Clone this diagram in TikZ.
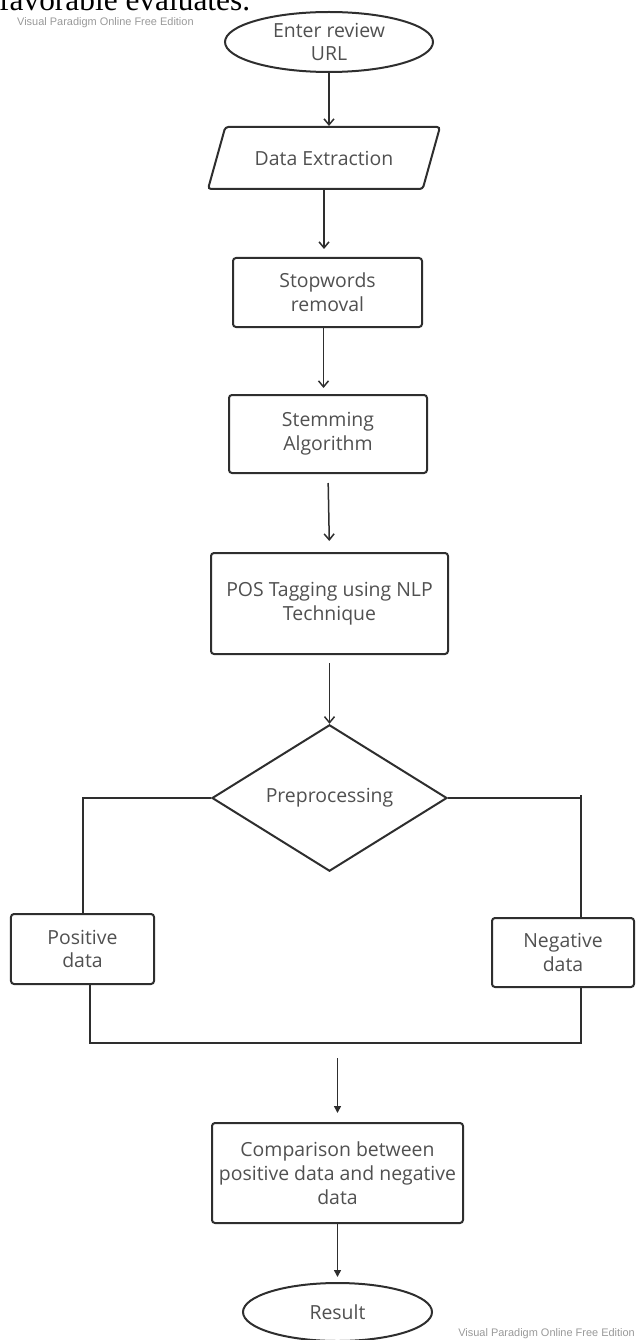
\documentclass[tikz,border=0pt]{standalone}
\usepackage{fontspec}
\setmainfont{Open Sans}
\newfontfamily\wmfont{Liberation Sans}
\newfontfamily\capfont{Liberation Serif}
\usetikzlibrary{shapes.geometric,arrows.meta}
\definecolor{vpline}{HTML}{2E2E2E}
\definecolor{vptext}{HTML}{505050}

\begin{document}
\begin{tikzpicture}[x = 1bp, y = -1bp,
	every node/.style = {font = \fontsize{19.5}{24}\selectfont, text = vptext, align = center, inner sep = 0pt},
	box/.style = {draw = vpline, line width = 2bp, rounded corners = 3bp},
	terminal/.style = {draw = vpline, line width = 2bp, ellipse},
	io/.style = {box, trapezium, trapezium left angle = 50, trapezium right angle = 130, trapezium stretches},
	decision/.style = {draw = vpline, line width = 2bp, diamond},
	link/.style = {draw = vpline, line width = 2bp},
	flow/.style = {draw = vpline, line width = 1.5bp, -{Straight Barb[length = 6bp, width = 10bp]}},
	flowsolid/.style = {draw = vpline, line width = 1.5bp, -{Triangle[length = 7bp, width = 7bp]}},
	watermark/.style = {font = \wmfont\fontsize{11}{13}\selectfont, text = black!40}]
	\useasboundingbox (0,0) rectangle (636,1340);

	% page text and watermarks
	\node[font = \capfont\fontsize{31.5}{36}\selectfont, text = black, anchor = base west] (caption) at (-1,11) {favorable evaluates.};
	\node[watermark, anchor = west] (wmtop) at (17,23) {Visual Paradigm Online Free Edition};
	\node[watermark, anchor = east] (wmbot) at (635,1334) {Visual Paradigm Online Free Edition};

	% flow steps
	\node[terminal, minimum width = 208bp, minimum height = 60bp] (start) at (329,42) {Enter review\\URL};
	\node[io, minimum width = 232bp, minimum height = 62bp] (extract) at (324,158) {Data Extraction};
	\node[box, minimum width = 189bp, minimum height = 69bp] (stop) at (327.5,292.5) {Stopwords\\removal};
	\node[box, minimum width = 198bp, minimum height = 78bp] (stem) at (328,434) {Stemming\\Algorithm};
	\node[box, minimum width = 237bp, minimum height = 101bp] (tag) at (329.5,603.5) {POS Tagging using NLP\\Technique};
	\node[decision, minimum width = 235bp, minimum height = 100bp] (prep) at (329.5,798) {Preprocessing};
	\node[box, minimum width = 143bp, minimum height = 70bp] (posdata) at (82.5,949) {Positive\\data};
	\node[box, minimum width = 142bp, minimum height = 69bp] (negdata) at (563,952.5) {Negative\\data};
	\node[box, minimum width = 251bp, minimum height = 100bp] (comp) at (337.5,1173) {Comparison between\\positive data and negative\\data};
	\node[terminal, minimum width = 189bp, minimum height = 58bp] (result) at (337.5,1312) {Result};

	% arrows
	\draw[flow] (start.south) -- (start.south |- extract.north);
	\draw[flow, shorten >= 8bp] (extract.south) -- (extract.south |- stop.north);
	\draw[flow, shorten >= 6bp] ([xshift = -4bp]stop.south) -- ([xshift = -4bp]stop.south |- stem.north);
	\draw[flow, shorten <= 9bp, shorten >= 11bp] (stem.south) -- (tag.north);
	\draw[flow, shorten <= 8bp] (tag.south) -- (prep.north);

	% branches
	\coordinate (rc) at (581,798);
	\draw[link] (prep.west) -| (posdata.north);
	\draw[link] (prep.east) -- (rc);
	\draw[link] ([yshift = 3bp]rc) -- (rc |- negdata.north);

	% join
	\coordinate (jl) at (90,1043);
	\coordinate (jr) at (581,1043);
	\draw[link] (jl |- posdata.south) -- (jl) -- (jr) -- (jr |- negdata.south);
	\draw[flowsolid, shorten <= 15bp, shorten >= 9bp] (comp.north |- jl) -- (comp.north);
	\draw[flowsolid, shorten >= 5bp] (comp.south) -- (result.north);
\end{tikzpicture}
\end{document}
